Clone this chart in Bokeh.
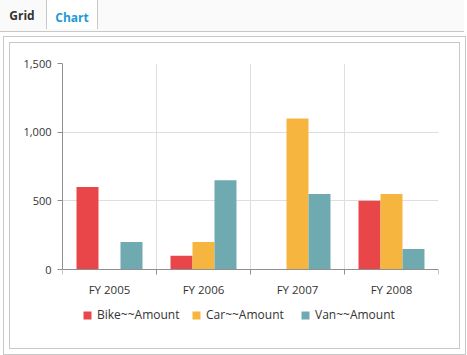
from bokeh.plotting import figure
from bokeh.models import (ColumnDataSource, FixedTicker, Legend, LegendItem, Grid, BoxAnnotation,
                          NumeralTickFormatter, Range1d, Div, Spacer)
from bokeh.layouts import column, row
from bokeh.transform import dodge
from bokeh.embed import file_html
from bokeh.resources import INLINE

years = ["FY 2005", "FY 2006", "FY 2007", "FY 2008"]
bike = [600, 100, 0, 500]
car = [0, 200, 1100, 550]
van = [200, 650, 550, 150]
series_names = ["Bike~~Amount", "Car~~Amount", "Van~~Amount"]
colors = ["#E94649", "#F6B53F", "#6FAAB0"]
y_ticks = [0, 500, 1000, 1500]
tabs = ["Grid", "Chart"]

FONT = "Open Sans"

# layout geometry (pixels)
CW, CH = 449, 305
BL, BR, BT, BB = 52, 21, 20, 25
ZERO_FROM_TOP = 206          # pixel distance from frame top to value 0
FRAME_H = CH - BT - BB
YMAX = y_ticks[-1]
ymin = YMAX - YMAX * FRAME_H / ZERO_FROM_TOP

xc = [i + 0.5 for i in range(len(years))]
src = ColumnDataSource(dict(x=xc, bike=bike, car=car, van=van))

p = figure(width=CW, height=CH, output_backend="svg", toolbar_location=None,
           x_range=Range1d(0, len(years)), y_range=Range1d(ymin, YMAX),
           min_border_left=BL, min_border_right=BR, min_border_top=BT, min_border_bottom=BB,
           styles={"box-shadow": "0 0 0 1px #c8c8c8, 0 0 0 6px #ffffff, 0 0 0 7px #c8c8c8"})
p.background_fill_color = "white"
p.border_fill_color = "white"
p.outline_line_color = None

bw = 0.234
offs = [-bw, 0, bw]
rends = []
for key, off, col in zip(["bike", "car", "van"], offs, colors):
    r = p.vbar(x=dodge("x", off, range=p.x_range), top=key, width=bw, source=src,
               fill_color=col, line_color=None)
    rends.append(r)

ya = p.yaxis[0]
ya.ticker = FixedTicker(ticks=y_ticks)
ya.bounds = (0, YMAX)
ya.formatter = NumeralTickFormatter(format="0,0")
ya.major_tick_out = 5
ya.major_tick_in = 0
ya.minor_tick_line_color = None
ya.axis_line_color = "#8f8f8f"
ya.major_tick_line_color = "#8f8f8f"
ya.major_label_text_font = FONT
ya.major_label_text_font_size = "11px"
ya.major_label_text_color = "#333333"
ya.major_label_standoff = 6

xa = p.xaxis[0]
xa.fixed_location = 0
xa.ticker = FixedTicker(ticks=xc, minor_ticks=list(range(len(years) + 1)))
xa.major_label_overrides = {c: y for c, y in zip(xc, years)}
xa.major_tick_line_color = None
xa.major_tick_out = 0
xa.major_tick_in = 0
xa.minor_tick_out = 5
xa.minor_tick_in = 0
xa.minor_tick_line_color = "#8f8f8f"
xa.axis_line_color = "#8f8f8f"
xa.major_label_text_font = FONT
xa.major_label_text_font_size = "11.5px"
xa.major_label_text_color = "#333333"
xa.major_label_standoff = 7

p.xgrid.ticker = FixedTicker(ticks=[1, 2, 3])
p.ygrid.ticker = FixedTicker(ticks=[500, 1000])
p.xgrid.grid_line_color = "#dedede"
p.ygrid.grid_line_color = "#dedede"
p.add_layout(Grid(dimension=1, ticker=FixedTicker(ticks=[YMAX]), grid_line_color="#eeeeee"))
p.add_layout(Grid(dimension=0, ticker=FixedTicker(ticks=[len(years)]), grid_line_color="#eeeeee"))

# blank the area below the value axis (legend area)
p.add_layout(BoxAnnotation(top=0, fill_color="white", fill_alpha=1, line_color=None,
                           level="glyph"))

legend = Legend(items=[LegendItem(label=n, renderers=[r]) for n, r in zip(series_names, rends)],
                location=(20, 0), orientation="horizontal", glyph_width=10, glyph_height=10,
                label_standoff=5, label_width=94, spacing=0, padding=0, margin=0,
                border_line_color=None, background_fill_alpha=0, label_text_font=FONT,
                label_text_font_size="12px", label_text_color="#333333")
p.add_layout(legend, "center")

tab_html = (
    '<div style="position:relative;width:467px;height:35px;background:#fafafa;'
    'border-bottom:1px solid #c8c8c8;box-sizing:border-box;font-family:\'Open Sans\';'
    'font-size:12px;font-weight:bold;">'
    '<div style="position:absolute;left:0;top:0;width:50px;height:34px;line-height:38px;'
    'text-align:center;color:#333333;">%s</div>'
    '<div style="position:absolute;left:49px;top:0;width:52px;height:32px;background:#ffffff;'
    'border-left:1px solid #c8c8c8;border-right:1px solid #c8c8c8;border-top:3px solid #1e9ad6;'
    'line-height:35px;text-align:center;color:#1e9ad6;">%s</div>'
    '</div>' % (tabs[0], tabs[1])
)
tab_div = Div(text=tab_html, width=467, height=35,
              styles={"position": "relative", "z-index": "2"})

body = row(Spacer(width=18, height=CH), p, spacing=0)
layout = column(tab_div, body, spacing=6,
                styles={"margin-left": "-8px", "margin-top": "-8px"})

open("out.html", "w").write(file_html(layout, INLINE))
